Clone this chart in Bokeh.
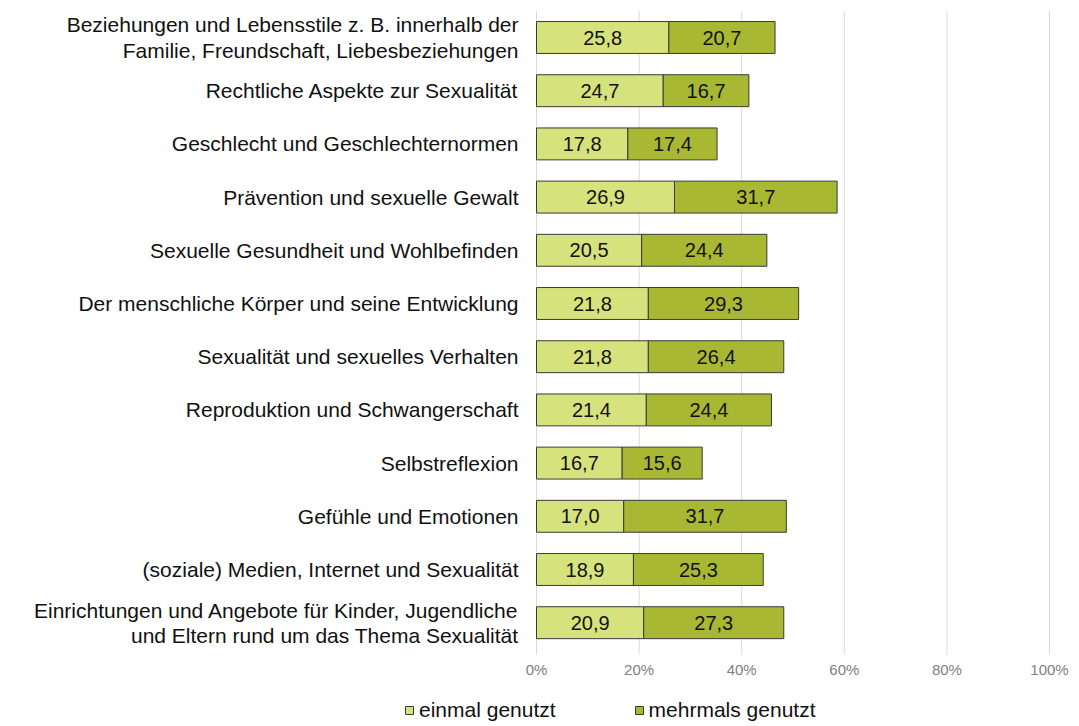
from bokeh.plotting import figure
from bokeh.models import ColumnDataSource, Legend, LegendItem, Range1d
from bokeh.embed import file_html
from bokeh.resources import INLINE
from bokeh.core.properties import value

categories = [
    "Beziehungen und Lebensstile z. B. innerhalb der\nFamilie, Freundschaft, Liebesbeziehungen",
    "Rechtliche Aspekte zur Sexualität",
    "Geschlecht und Geschlechternormen",
    "Prävention und sexuelle Gewalt",
    "Sexuelle Gesundheit und Wohlbefinden",
    "Der menschliche Körper und seine Entwicklung",
    "Sexualität und sexuelles Verhalten",
    "Reproduktion und Schwangerschaft",
    "Selbstreflexion",
    "Gefühle und Emotionen",
    "(soziale) Medien, Internet und Sexualität",
    "Einrichtungen und Angebote für Kinder, Jugendliche\nund Eltern rund um das Thema Sexualität",
]
einmal = [25.8, 24.7, 17.8, 26.9, 20.5, 21.8, 21.8, 21.4, 16.7, 17.0, 18.9, 20.9]
mehrmals = [20.7, 16.7, 17.4, 31.7, 24.4, 29.3, 26.4, 24.4, 15.6, 31.7, 25.3, 27.3]
series_names = ["einmal genutzt", "mehrmals genutzt"]
x_ticks = [0, 20, 40, 60, 80, 100]
x_tick_labels = ["0%", "20%", "40%", "60%", "80%", "100%"]

c_light = "#d6e27c"
c_dark = "#a8b833"
edge = "#3a3a3a"
txt = "#111111"
font = value("Liberation Sans")

W, H = 1069, 724
PLOT_LEFT_PX = 536          # pixel where 0 % sits
PX_PER_PCT = 513 / 100.0    # pixels per percent
ROW_PX = 53.2               # pixels per category row
FIRST_ROW_PX = 37           # pixel centre of the first row

def fmt(v):
    return f"{v:.1f}".replace(".", ",")

n = len(categories)
ypos = [n - i for i in range(n)]  # first category at top

src = ColumnDataSource(dict(
    y=ypos,
    cat=categories,
    e_end=einmal,
    m_end=[a + b for a, b in zip(einmal, mehrmals)],
    e_mid=[a / 2 for a in einmal],
    m_mid=[a + b / 2 for a, b in zip(einmal, mehrmals)],
    e_lab=[fmt(v) for v in einmal],
    m_lab=[fmt(v) for v in mehrmals],
))

y_top = n + FIRST_ROW_PX / ROW_PX
y_bottom = y_top - H / ROW_PX
x_start = -PLOT_LEFT_PX / PX_PER_PCT
x_end = (W - PLOT_LEFT_PX) / PX_PER_PCT

p = figure(
    width=W, height=H,
    x_range=Range1d(x_start, x_end), y_range=Range1d(y_bottom, y_top),
    output_backend="svg", toolbar_location=None,
    x_axis_type=None, y_axis_type=None,
    min_border_left=0, min_border_right=0, min_border_top=0, min_border_bottom=0,
)
p.outline_line_color = None
p.xgrid.grid_line_color = None
p.ygrid.grid_line_color = None

# vertical gridlines
p.segment(x0=x_ticks, x1=x_ticks, y0=[0.4] * len(x_ticks), y1=[n + 0.5] * len(x_ticks),
          line_color="#d9d9d9", line_width=1)

# bars
r1 = p.hbar(y="y", left=0, right="e_end", height=0.6, source=src,
            fill_color=c_light, line_color=edge, line_width=1)
r2 = p.hbar(y="y", left="e_end", right="m_end", height=0.6, source=src,
            fill_color=c_dark, line_color=edge, line_width=1)

# value labels
for xcol, lcol in (("e_mid", "e_lab"), ("m_mid", "m_lab")):
    p.text(x=xcol, y="y", text=lcol, source=src, text_align="center",
           text_baseline="middle", text_font=font,
           text_font_size="20px", text_color=txt)

# category labels
p.text(x=-18 / PX_PER_PCT, y="y", text="cat", source=src, text_align="right",
       text_baseline="middle", text_font=font, text_font_size="21px",
       text_color=txt, text_line_height=1.1)

# x tick labels
tick_y = y_top - 669 / ROW_PX
p.text(x=x_ticks, y=[tick_y] * len(x_ticks), text=x_tick_labels,
       text_align="center", text_baseline="middle", text_font=font,
       text_font_size="15px", text_color="#808080")

legend = Legend(
    items=[LegendItem(label=series_names[0], renderers=[r1]),
           LegendItem(label=series_names[1], renderers=[r2])],
    orientation="horizontal",
    location=(404, 2),
    border_line_color=None,
    background_fill_alpha=0,
    label_text_font="Liberation Sans",
    label_text_font_size="21px",
    label_text_color=txt,
    glyph_width=10, glyph_height=10,
    label_standoff=5,
    spacing=78,
    padding=0, margin=0,
)
p.add_layout(legend, "center")

open("out.html", "w").write(file_html(p, INLINE))
